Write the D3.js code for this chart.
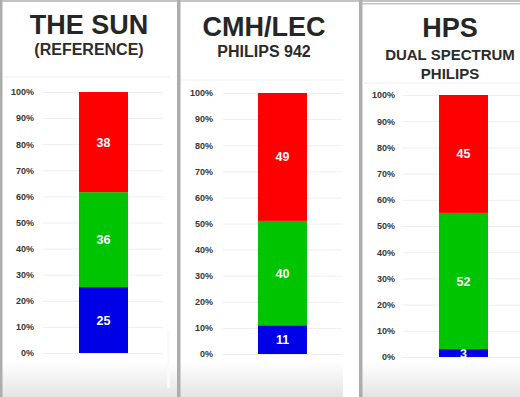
<!DOCTYPE html>
<html>
<head>
<meta charset="utf-8">
<script src="https://cdn.jsdelivr.net/npm/d3@7"></script>
<style>
  body { margin: 0; background: #fff; }
  svg { display: block; font-family: "Liberation Sans", Arial, sans-serif; }
</style>
</head>
<body>
<div id="chart"></div>
<script>
// data
const titles = ['THE SUN', 'CMH/LEC', 'HPS'];
const subtitles = [['(REFERENCE)'], ['PHILIPS 942'], ['DUAL SPECTRUM', 'PHILIPS']];
const blueVals = [25, 11, 3];
const greenVals = [36, 40, 52];
const redVals = [38, 49, 45];
const tickVals = [0, 0.1, 0.2, 0.3, 0.4, 0.5, 0.6, 0.7, 0.8, 0.9, 1];

const keys = ['blue', 'green', 'red'];
const colors = {blue: '#0000e6', green: '#00c400', red: '#ff0000'};

// where each card sits in the screenshot
const layout = [
  {x0: 3, x1: 170, cx: 89, titleY: 34, subY: [55], ruleY: 77, yTop: 92, yBot: 353, labelX: 34, gridX: 43, gridX2: 163, barX: 79},
  {x0: 181, x1: 345, cx: 264, titleY: 36, subY: [57], ruleY: 80, yTop: 93, yBot: 354, labelX: 213, gridX: 223, gridX2: 342, barX: 258},
  {x0: 362, x1: 520, cx: 450, titleY: 37, subY: [60, 79], ruleY: 83, yTop: 95, yBot: 357, labelX: 395, gridX: 403, gridX2: 520, barX: 439}
];
const barW = 49;

const W = 520, H = 397;

const svg = d3.select('#chart')
  .append('svg')
  .attr('width', W)
  .attr('height', H);

const defs = svg.append('defs');
const grad = defs.append('linearGradient')
  .attr('id', 'fade')
  .attr('x1', 0).attr('y1', 0).attr('x2', 0).attr('y2', 1);
grad.append('stop').attr('offset', '0%').attr('stop-color', '#ffffff');
grad.append('stop').attr('offset', '100%').attr('stop-color', '#e4e4e4');

// background + card frames
svg.append('rect').attr('width', W).attr('height', H).attr('fill', '#fff');
svg.append('rect').attr('x', 0).attr('y', 362).attr('width', W).attr('height', 35).attr('fill', 'url(#fade)');
svg.append('rect').attr('x', 343).attr('y', 330).attr('width', 16).attr('height', 67).attr('fill', '#fff');
svg.append('rect').attr('x', 167).attr('y', 330).attr('width', 3).attr('height', 58).attr('fill', '#fafafa');

svg.append('rect').attr('x', 0).attr('y', 0).attr('width', W).attr('height', 2).attr('fill', '#c4c4c4');
svg.append('rect').attr('x', 362).attr('y', 3).attr('width', 158).attr('height', 1.5).attr('fill', '#c4c4c4');
[0, 177, 359].forEach(x => {
  svg.append('rect').attr('x', x).attr('y', 0).attr('width', x === 0 ? 2.5 : 3.5).attr('height', H).attr('fill', '#adadad');
});

const rows = titles.map((t, i) => ({name: t, blue: blueVals[i], green: greenVals[i], red: redVals[i]}));
const series = d3.stack().keys(keys).offset(d3.stackOffsetExpand)(rows);

titles.forEach((t, i) => {
  const L = layout[i];
  const g = svg.append('g');

  g.append('text')
    .attr('x', L.cx).attr('y', L.titleY)
    .attr('text-anchor', 'middle')
    .attr('font-size', 27).attr('font-weight', 'bold')
    .attr('fill', '#262626')
    .text(t);

  subtitles[i].forEach((s, j) => {
    g.append('text')
      .attr('x', L.cx).attr('y', L.subY[j])
      .attr('text-anchor', 'middle')
      .attr('font-size', i === 2 ? 15 : 16).attr('font-weight', 'bold')
      .attr('fill', '#2b2b2b')
      .text(s);
  });

  g.append('line')
    .attr('x1', L.x0).attr('x2', L.x1)
    .attr('y1', L.ruleY).attr('y2', L.ruleY)
    .attr('stroke', '#efefef');

  const y = d3.scaleLinear().domain([0, 1]).range([L.yBot, L.yTop]);
  const x = d3.scaleBand().domain([t]).range([L.barX, L.barX + barW]).padding(0);

  const axis = g.append('g')
    .attr('transform', `translate(${L.gridX},0)`)
    .call(d3.axisLeft(y)
      .tickValues(tickVals)
      .tickFormat(d3.format('.0%'))
      .tickSize(-(L.gridX2 - L.gridX))
      .tickPadding(L.gridX - L.labelX));
  axis.select('.domain').remove();
  axis.selectAll('.tick line').attr('stroke', '#eeeeee');
  axis.selectAll('.tick text')
    .attr('font-family', '"Liberation Sans", Arial, sans-serif')
    .attr('font-size', 9).attr('font-weight', 'bold')
    .attr('fill', '#363636');

  series.forEach(s => {
    const d = s[i];
    g.append('rect')
      .attr('x', x(t))
      .attr('width', x.bandwidth())
      .attr('y', y(d[1]))
      .attr('height', y(d[0]) - y(d[1]))
      .attr('fill', colors[s.key]);

    g.append('text')
      .attr('x', x(t) + x.bandwidth() / 2)
      .attr('y', (y(d[0]) + y(d[1])) / 2)
      .attr('dy', '0.36em')
      .attr('text-anchor', 'middle')
      .attr('font-size', 12.5).attr('font-weight', 'bold')
      .attr('fill', '#fff')
      .text(d.data[s.key]);
  });
});
</script>
</body>
</html>
